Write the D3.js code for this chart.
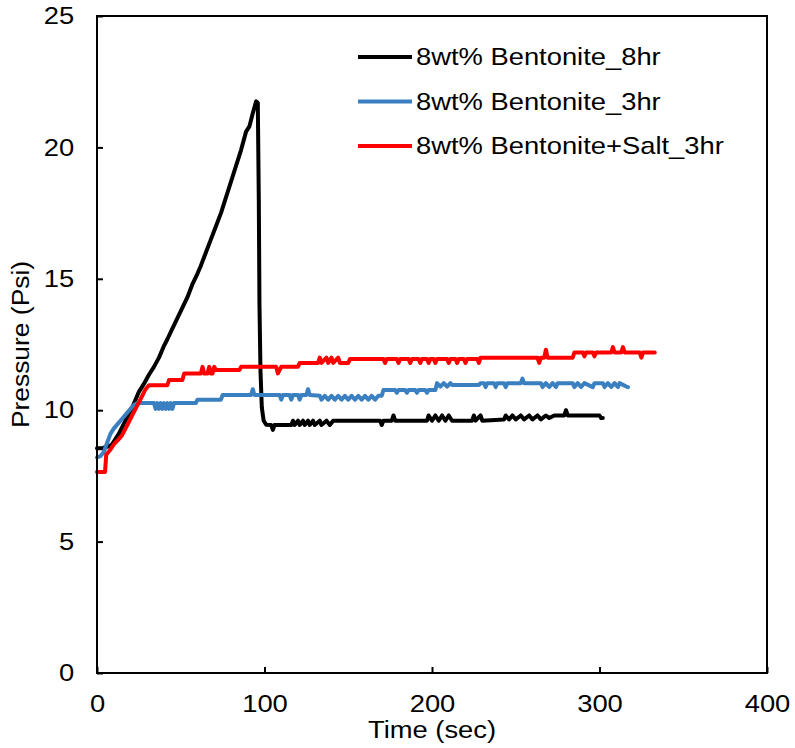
<!DOCTYPE html>
<html>
<head>
<meta charset="utf-8">
<script src="https://cdnjs.cloudflare.com/ajax/libs/d3/7.8.5/d3.min.js"></script>
<style>
  body { margin: 0; background: #fff; }
  text { font-family: "Liberation Sans", Arial, sans-serif; fill: #000; font-size: 24px; }
  .axis path { display: none; }
  .axis line { stroke: #000; stroke-width: 2; }
  .axis text { font-size: 24px; }
  .series { fill: none; stroke-width: 4; stroke-linejoin: round; stroke-linecap: round; }
</style>
</head>
<body>
<svg width="795" height="748"></svg>
<script>
// pressure vs time, three bentonite muds

var xTicks = [0, 100, 200, 300, 400];
var yTicks = [0, 5, 10, 15, 20, 25];

var names = ["8wt% Bentonite_8hr", "8wt% Bentonite_3hr", "8wt% Bentonite+Salt_3hr"];
var colors = ["#000000", "#3a7fc0", "#ff0000"];

// [time (sec), pressure (psi)]
var bent8hr = [
  [0,8.55],[3,8.55],[5,8.6],[7,8.62],[9,8.7],[11,8.9],[13,9.1],[15,9.35],[17,9.6],[19,9.85],
  [21,10.1],[23,10.4],[25,10.7],[28,11.0],[31,11.35],[34,11.65],[37,12.0],[40,12.45],[42,12.7],
  [45,13.1],[48,13.5],[51,13.9],[54,14.3],[57,14.8],[60,15.2],[62,15.5],[65,16.0],[68,16.5],
  [71,17.0],[74,17.5],[77,18.1],[80,18.7],[83,19.3],[86,19.9],[89,20.6],[91,20.8],[93,21.3],
  [95,21.75],[96,21.7],[96.6,18],[97,14],[97.6,11.5],[98.4,10.1],[99.5,9.6],[101,9.45],
  [104,9.44],[105,9.25],[106,9.44],[116,9.44],[117,9.6],[118,9.44],[120,9.6],[121,9.44],
  [123,9.6],[124,9.44],[126,9.6],[127,9.44],[129,9.6],[130,9.44],[133,9.6],[134,9.44],
  [137,9.6],[139,9.44],[141,9.6],[169,9.6],[170,9.44],[171,9.6],[176,9.6],[177,9.8],[178,9.6],
  [197,9.6],[198,9.8],[200,9.6],[202,9.8],[204,9.6],[206,9.8],[208,9.6],[210,9.8],[212,9.6],
  [224,9.6],[225,9.8],[226,9.6],[229,9.8],[230,9.6],[243,9.65],[244,9.8],[246,9.65],[248,9.8],
  [250,9.65],[253,9.8],[255,9.65],[258,9.8],[260,9.65],[263,9.8],[265,9.65],[268,9.8],
  [270,9.7],[273,9.8],[279,9.8],[280,10.0],[281,9.8],[300,9.8],[301,9.7],[302,9.7]
];

var bent3hr = [
  [0,8.2],[2,8.25],[4,8.4],[6,8.75],[8,9.1],[10,9.3],[12,9.45],[14,9.6],[16,9.75],[18,9.9],
  [20,10.05],[22,10.2],[24,10.27],[34,10.27],[35,10.05],[36,10.27],[37,10.05],[38,10.27],
  [39,10.05],[40,10.27],[41,10.05],[42,10.27],[43,10.05],[44,10.27],[45,10.05],[46,10.27],
  [59,10.27],[60,10.4],[74,10.4],[75,10.58],[92,10.58],[93,10.8],[94,10.58],[109,10.58],
  [110,10.4],[111,10.58],[115,10.58],[116,10.4],[117,10.58],[120,10.58],[121,10.4],[122,10.58],
  [125,10.58],[126,10.8],[127,10.58],[133,10.55],[134,10.4],[136,10.55],[138,10.4],[140,10.55],
  [142,10.4],[144,10.55],[146,10.4],[148,10.55],[150,10.4],[152,10.55],[154,10.4],[156,10.55],
  [158,10.4],[160,10.55],[162,10.4],[164,10.55],[166,10.4],[168,10.55],[170,10.55],[171,10.77],
  [178,10.77],[179,10.66],[180,10.77],[184,10.77],[185,10.66],[186,10.77],[190,10.77],
  [191,10.66],[192,10.77],[196,10.77],[197,10.66],[198,10.77],[202,10.77],[203,11.03],
  [205,10.9],[207,11.03],[209,10.9],[211,11.03],[212,10.96],[228,10.96],[229,11.03],
  [231,11.03],[232,10.88],[233,11.03],[237,11.03],[238,10.88],[239,11.03],[243,11.03],
  [244,10.88],[245,11.03],[253,11.03],[254,11.2],[255,11.03],[265,11.03],[266,10.88],
  [268,11.03],[270,10.88],[272,11.03],[274,10.88],[275,11.03],[284,11.03],[285,10.88],
  [287,11.03],[289,10.88],[291,11.03],[296,10.88],[297,11.03],[302,11.03],[303,10.88],
  [305,11.03],[307,10.88],[309,11.03],[311,10.88],[312,11.03],[316,10.9],[317,10.88]
];

var salt3hr = [
  [0,7.65],[4.8,7.65],[5.5,8.3],[8,8.5],[10,8.7],[13,8.9],[15,9.05],[17,9.3],[19,9.55],
  [21,9.8],[23,10.05],[25,10.3],[27,10.55],[29,10.8],[31,10.95],[42,10.95],[43,11.15],
  [51,11.15],[52,11.4],[62,11.4],[63,11.65],[64,11.4],[66,11.4],[67,11.65],[68,11.4],
  [69,11.4],[70,11.65],[71,11.53],[85,11.53],[86,11.65],[107,11.65],[108,11.4],[110,11.65],
  [120,11.65],[121,11.8],[132,11.8],[133,12.0],[134,11.8],[137,12.0],[138,11.8],[140,12.0],
  [141,11.8],[144,12.0],[145,11.8],[150,11.8],[151,11.95],[171,11.95],[172,11.8],[173,11.95],
  [179,11.95],[180,11.8],[181,11.95],[186,11.95],[187,11.8],[188,11.95],[192,11.95],
  [193,11.8],[194,11.95],[197,11.95],[198,11.8],[199,11.95],[201,11.95],[202,11.8],[203,11.95],
  [209,11.95],[210,11.8],[211,11.95],[214,11.95],[215,11.8],[216,11.95],[219,11.95],
  [220,11.8],[221,11.95],[227,11.95],[228,11.8],[229,12.0],[263,12.0],[264,11.8],[265,12.0],
  [267,12.0],[268,12.3],[269,12.0],[284,12.0],[285,12.2],[290,12.2],[291,12.05],[292,12.2],
  [296,12.2],[297,12.05],[298,12.2],[307,12.2],[308,12.4],[309,12.2],[313,12.2],[314,12.4],
  [315,12.2],[324,12.2],[325,12.0],[326,12.2],[333,12.2]
];

var series = [bent8hr, bent3hr, salt3hr];

var stretch = "scale(1.14,1)"; // the source text is drawn a bit wider than plain Arial

var svg = d3.select("svg"),
    margin = {top: 16, right: 28, bottom: 75, left: 97},
    width = +svg.attr("width") - margin.left - margin.right,
    height = +svg.attr("height") - margin.top - margin.bottom,
    g = svg.append("g").attr("transform", "translate(" + margin.left + "," + margin.top + ")");

var x = d3.scaleLinear().domain([0, 400]).range([0, width]);
var y = d3.scaleLinear().domain([0, 25]).range([height, 0]);

var line = d3.line()
    .x(function(d) { return x(d[0]); })
    .y(function(d) { return y(d[1]); });

g.append("g")
    .attr("class", "axis")
    .attr("transform", "translate(0," + height + ")")
    .call(d3.axisBottom(x).tickValues(xTicks).tickSizeInner(-6).tickSizeOuter(0).tickPadding(22))
  .selectAll("text")
    .attr("transform", stretch);

g.append("g")
    .attr("class", "axis")
    .call(d3.axisLeft(y).tickValues(yTicks).tickSizeInner(-6).tickSizeOuter(0).tickPadding(20))
  .selectAll("text")
    .attr("transform", stretch);

series.forEach(function(s, i) {
  g.append("path")
      .datum(s)
      .attr("class", "series")
      .attr("stroke", colors[i])
      .attr("d", line);
});

// frame
g.append("rect")
    .attr("width", width)
    .attr("height", height)
    .attr("fill", "none")
    .attr("stroke", "#000")
    .attr("stroke-width", 2);

g.append("text")
    .attr("transform", "translate(" + (width / 2) + "," + (height + 65) + ") " + stretch)
    .attr("text-anchor", "middle")
    .text("Time (sec)");

g.append("text")
    .attr("transform", "translate(-68," + (height / 2) + ") rotate(-90) scale(1.1,1)")
    .attr("text-anchor", "middle")
    .text("Pressure (Psi)");

var legend = g.selectAll(".legend")
    .data(names)
  .enter().append("g")
    .attr("class", "legend")
    .attr("transform", function(d, i) { return "translate(261," + (41 + i * 44.5) + ")"; });

legend.append("line")
    .attr("x1", 0)
    .attr("x2", 54)
    .attr("stroke", function(d, i) { return colors[i]; })
    .attr("stroke-width", 4);

legend.append("text")
    .attr("transform", "translate(58,0) " + stretch)
    .attr("dy", "0.35em")
    .text(function(d) { return d; });
</script>
</body>
</html>
